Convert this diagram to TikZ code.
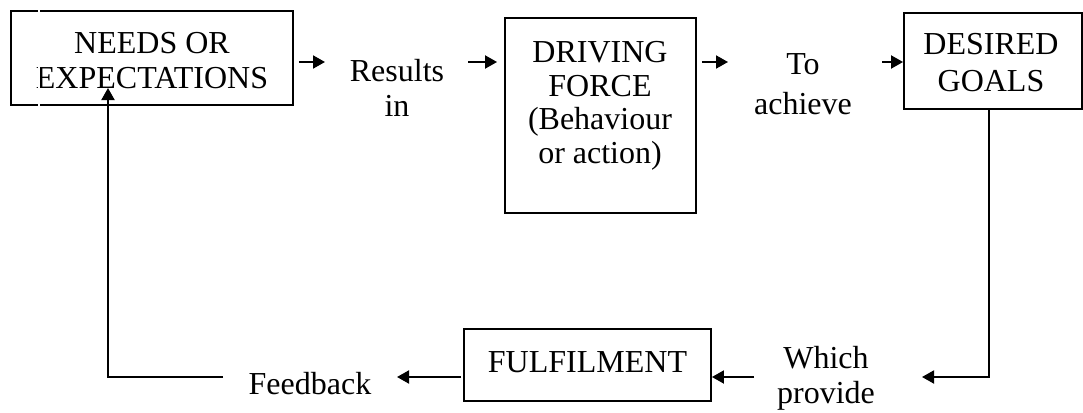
\documentclass[tikz,border=0pt]{standalone}
\usepackage{fontspec}
\setmainfont{Liberation Serif}
\usetikzlibrary{arrows.meta}
\begin{document}
\begin{tikzpicture}[x=1pt,y=-1pt,
  every node/.style={font=\fontsize{32}{35}\selectfont},
  box/.style={draw,line width=1.9pt,inner sep=0pt},
  txt/.style={inner sep=0pt,align=center},
  link/.style={line width=1.9pt},
  arr/.style={link,-{Triangle[length=12pt,width=13pt]}}]
\useasboundingbox (0,0) rectangle (1083,412);

% boxes and their captions
\node[box,minimum width=282pt,minimum height=94pt] (needs) at (152,58) {};
\node[txt] (needstxt) at (152,61) {NEEDS OR\\EXPECTATIONS};
\node[box,minimum width=191pt,minimum height=195pt] (drive) at (600.5,115.5) {};
\node[txt,font=\fontsize{32}{33.5}\selectfont] (drivetxt) at (600,106) {DRIVING\\FORCE\\(Behaviour\\or action)};
\node[box,minimum width=178pt,minimum height=96pt] (goals) at (993,61) {};
\node[txt,font=\fontsize{32}{37}\selectfont] (goalstxt) at (991,63) {DESIRED\\GOALS};
\node[box,minimum width=247pt,minimum height=72pt] (fulfil) at (587.5,365) {};
\node[txt] (fulfiltxt) at (587.5,362) {FULFILMENT};

% linking words
\node[txt] (results) at (397,87.5) {Results\\in};
\node[txt,font=\fontsize{32}{40}\selectfont] (achieve) at (803,84) {To\\achieve};
\node[txt] (which) at (826,378) {Which\\provide};
\node[txt] (feedback) at (310,384) {Feedback};

% upper row arrows
\coordinate (r1) at (325,62);
\coordinate (r2) at (468,62);
\coordinate (d1) at (728,62);
\coordinate (d2) at (882,62);
\draw[arr,shorten <=5pt] (needs.east |- r1) -- (r1);
\draw[arr,shorten >=7pt] (r2) -- (drive.west |- r2);
\draw[arr,shorten <=5pt] (drive.east |- d1) -- (d1);
\draw[arr] (d2) -- (goals.west |- d2);

% return path
\coordinate (wend) at (922,377);
\coordinate (wstart) at (754,377);
\coordinate (fend) at (397,377);
\coordinate (fb) at (223,377);
\coordinate (up) at (108,88);
\draw[arr] (goals.south -| 989,0) |- (wend);
\draw[arr] (wstart) -- (fulfil.east |- wstart);
\draw[arr,shorten <=2pt] (fulfil.west |- fend) -- (fend);
\draw[arr] (fb) -- (up |- fb) -- (up);

% thin white seam across the first box
\draw[white,line width=2pt] (38.5,7) -- (38.5,109);
\end{tikzpicture}
\end{document}
